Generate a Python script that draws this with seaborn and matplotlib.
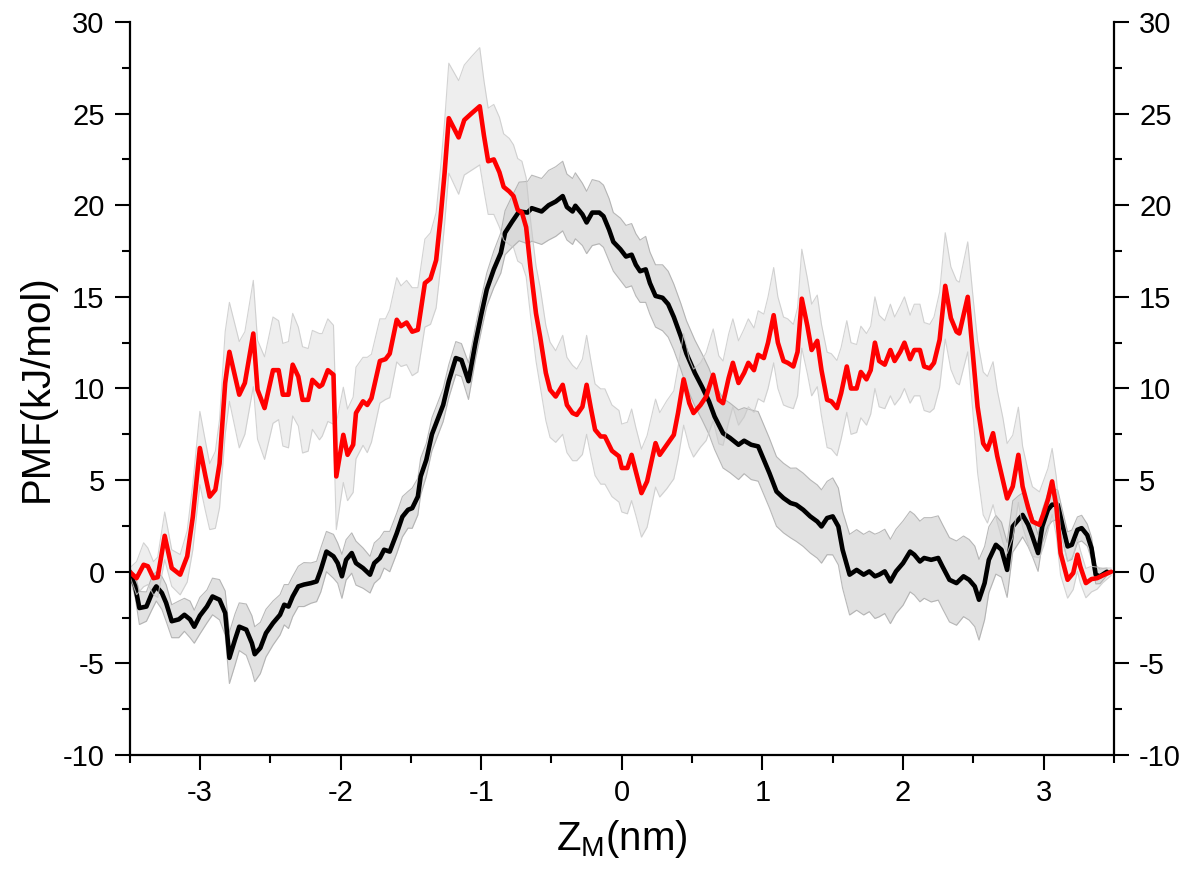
import matplotlib
matplotlib.use("Agg")
import matplotlib.pyplot as plt
from matplotlib.ticker import MultipleLocator
import numpy as np
import pandas as pd
import seaborn as sns

# ---------------- data ----------------
red_z = [
    -3.50, -3.45, -3.40, -3.37, -3.33, -3.30, -3.25, -3.20, -3.14, -3.09,
    -3.05, -3.00, -2.96, -2.93, -2.89, -2.86, -2.82, -2.79, -2.72, -2.68,
    -2.62, -2.59, -2.54, -2.48, -2.44, -2.41, -2.37, -2.34, -2.30, -2.27,
    -2.23, -2.20, -2.15, -2.13, -2.09, -2.05, -2.03, -1.98, -1.95, -1.91,
    -1.89, -1.84, -1.81, -1.78, -1.72, -1.68, -1.65, -1.60, -1.57, -1.53,
    -1.49, -1.45, -1.40, -1.36, -1.32, -1.29, -1.26, -1.23, -1.16, -1.12,
    -1.07, -1.01, -0.98, -0.95, -0.91, -0.87, -0.84, -0.80, -0.77, -0.74,
    -0.71, -0.68, -0.65, -0.61, -0.58, -0.54, -0.51, -0.47, -0.42, -0.39,
    -0.35, -0.32, -0.28, -0.25, -0.22, -0.19, -0.15, -0.12, -0.07, -0.02,
    0.00, 0.04, 0.07, 0.10, 0.14, 0.18, 0.24, 0.27, 0.32, 0.37,
    0.40, 0.44, 0.48, 0.51, 0.56, 0.60, 0.65, 0.69, 0.72, 0.76,
    0.79, 0.83, 0.87, 0.90, 0.94, 0.97, 1.01, 1.04, 1.08, 1.11,
    1.15, 1.18, 1.22, 1.25, 1.28, 1.32, 1.35, 1.39, 1.42, 1.46,
    1.49, 1.53, 1.56, 1.60, 1.63, 1.67, 1.70, 1.74, 1.77, 1.80,
    1.83, 1.87, 1.91, 1.94, 1.98, 2.01, 2.05, 2.08, 2.12, 2.15,
    2.19, 2.22, 2.26, 2.30, 2.34, 2.38, 2.40, 2.46, 2.50, 2.53,
    2.57, 2.60, 2.64, 2.67, 2.71, 2.74, 2.78, 2.82, 2.85, 2.89,
    2.92, 2.97, 3.00, 3.03, 3.06, 3.09, 3.12, 3.17, 3.21, 3.24,
    3.26, 3.30, 3.34, 3.38, 3.42, 3.48,
]
red_pmf = [
    0.0, -0.35, 0.38, 0.3, -0.35, -0.3, 1.96, 0.2, -0.16, 0.84,
    3.0, 6.75, 5.2, 4.1, 4.47, 5.9, 10.3, 12.0, 9.66, 10.3,
    13.0, 9.93, 8.93, 11.0, 11.0, 9.66, 9.66, 11.3, 10.65, 9.38,
    9.38, 10.47, 10.1, 10.2, 11.0, 10.75, 5.2, 7.47, 6.38, 6.93,
    8.66, 9.3, 9.1, 9.47, 11.5, 11.6, 11.9, 13.75, 13.4, 13.6,
    13.1, 13.2, 15.75, 16.0, 17.0, 19.2, 21.75, 24.75, 23.7, 24.65,
    25.0, 25.4, 23.8, 22.4, 22.5, 21.8, 21.0, 20.75, 20.5, 19.75,
    19.6, 18.8, 16.65, 14.1, 12.8, 10.85, 9.93, 9.56, 10.2, 9.1,
    8.66, 8.56, 9.0, 10.2, 8.93, 7.75, 7.38, 7.38, 6.6, 6.3,
    5.66, 5.66, 6.38, 5.47, 4.29, 4.93, 7.02, 6.38, 6.93, 7.47,
    8.66, 10.5, 9.2, 8.66, 9.1, 9.56, 10.75, 9.38, 9.2, 10.57,
    11.4, 10.3, 10.85, 11.4, 11.0, 11.84, 11.66, 12.5, 14.0, 12.5,
    11.5, 11.4, 11.2, 12.0, 14.9, 13.4, 12.1, 12.6, 11.0, 9.38,
    9.3, 8.93, 9.75, 11.2, 10.0, 10.0, 10.9, 10.5, 11.0, 12.5,
    11.5, 11.3, 12.1, 11.5, 12.0, 12.5, 11.6, 12.1, 12.1, 11.2,
    11.1, 11.4, 12.66, 15.6, 13.84, 13.1, 13.0, 15.0, 11.6, 9.0,
    7.0, 6.66, 7.56, 6.3, 5.0, 4.0, 4.65, 6.38, 4.65, 3.48,
    2.74, 2.56, 3.2, 3.93, 4.93, 3.56, 1.02, -0.44, -0.07, 0.93,
    0.29, -0.62, -0.4, -0.35, -0.2, 0.0,
]
red_err = [
    0.2, 0.9, 1.2, 1.0, 0.9, 1.1, 1.3, 1.0, 1.1, 1.4,
    1.8, 2.0, 1.9, 1.8, 2.1, 2.4, 2.8, 2.7, 2.9, 2.8,
    2.9, 2.7, 2.8, 2.9, 2.7, 2.8, 2.9, 2.8, 2.7, 2.9,
    2.8, 2.7, 2.9, 2.8, 2.8, 2.7, 2.9, 2.6, 2.5, 2.6,
    2.5, 2.4, 2.6, 2.4, 2.3, 2.2, 2.4, 2.3, 2.2, 2.3,
    2.4, 2.3, 2.4, 2.5, 2.6, 2.7, 2.8, 3.0, 3.1, 3.0,
    3.1, 3.2, 3.0, 2.9, 3.0, 3.0, 2.9, 2.9, 2.8, 2.8,
    2.8, 2.7, 2.6, 2.6, 2.7, 2.6, 2.6, 2.5, 2.7, 2.6,
    2.6, 2.5, 2.6, 2.7, 2.6, 2.5, 2.6, 2.6, 2.5, 2.5,
    2.4, 2.5, 2.5, 2.4, 2.4, 2.5, 2.4, 2.3, 2.4, 2.4,
    2.5, 2.5, 2.4, 2.4, 2.3, 2.4, 2.5, 2.4, 2.3, 2.4,
    2.4, 2.3, 2.4, 2.4, 2.3, 2.4, 2.4, 2.5, 2.6, 2.5,
    2.4, 2.4, 2.3, 2.4, 2.7, 2.6, 2.5, 2.5, 2.5, 2.6,
    2.6, 2.6, 2.5, 2.5, 2.5, 2.4, 2.5, 2.5, 2.4, 2.5,
    2.5, 2.4, 2.5, 2.4, 2.5, 2.5, 2.4, 2.5, 2.5, 2.4,
    2.4, 2.5, 2.6, 2.9, 2.8, 2.8, 2.8, 3.0, 3.2, 3.6,
    3.9, 4.0, 3.9, 3.6, 3.4, 3.0, 2.8, 2.6, 2.2, 2.0,
    1.9, 1.8, 1.8, 1.7, 1.8, 1.6, 1.2, 1.0, 0.9, 0.9,
    0.9, 0.8, 0.7, 0.6, 0.4, 0.2,
]

black_z = [
    -3.50, -3.46, -3.43, -3.38, -3.34, -3.31, -3.27, -3.24, -3.20, -3.15,
    -3.11, -3.07, -3.04, -3.00, -2.95, -2.91, -2.86, -2.82, -2.79, -2.75,
    -2.72, -2.67, -2.63, -2.61, -2.57, -2.53, -2.48, -2.43, -2.40, -2.37,
    -2.34, -2.30, -2.26, -2.21, -2.17, -2.14, -2.10, -2.05, -2.02, -1.99,
    -1.96, -1.92, -1.89, -1.84, -1.79, -1.76, -1.72, -1.69, -1.65, -1.60,
    -1.56, -1.52, -1.49, -1.45, -1.43, -1.39, -1.35, -1.31, -1.27, -1.23,
    -1.18, -1.14, -1.09, -1.04, -1.00, -0.96, -0.91, -0.86, -0.83, -0.78,
    -0.73, -0.67, -0.64, -0.57, -0.52, -0.47, -0.42, -0.39, -0.35, -0.33,
    -0.28, -0.25, -0.21, -0.16, -0.13, -0.09, -0.06, -0.01, 0.03, 0.07,
    0.10, 0.13, 0.17, 0.20, 0.24, 0.29, 0.33, 0.37, 0.42, 0.46,
    0.52, 0.57, 0.62, 0.66, 0.72, 0.77, 0.83, 0.87, 0.92, 0.97,
    1.02, 1.05, 1.10, 1.15, 1.20, 1.24, 1.29, 1.34, 1.39, 1.42,
    1.46, 1.50, 1.54, 1.57, 1.62, 1.67, 1.72, 1.76, 1.80, 1.83,
    1.87, 1.91, 1.95, 2.00, 2.05, 2.08, 2.12, 2.15, 2.20, 2.25,
    2.28, 2.33, 2.38, 2.43, 2.47, 2.51, 2.54, 2.58, 2.61, 2.66,
    2.70, 2.74, 2.78, 2.82, 2.85, 2.89, 2.92, 2.96, 2.99, 3.03,
    3.06, 3.10, 3.13, 3.17, 3.20, 3.24, 3.27, 3.31, 3.34, 3.37,
    3.40, 3.45,
]
black_pmf = [
    0.0, -0.8, -1.98, -1.9, -1.16, -0.8, -1.16, -1.7, -2.7, -2.6,
    -2.35, -2.6, -3.0, -2.4, -1.9, -1.35, -1.53, -2.25, -4.7, -3.7,
    -3.0, -3.16, -3.9, -4.5, -4.16, -3.35, -2.8, -2.35, -1.8, -1.9,
    -1.35, -0.8, -0.7, -0.62, -0.53, 0.1, 1.1, 0.84, 0.47, -0.25,
    0.65, 1.02, 0.47, 0.2, -0.16, 0.47, 0.75, 1.2, 1.1, 2.1,
    3.0, 3.38, 3.47, 4.1, 5.2, 6.1, 7.5, 8.3, 9.1, 10.4,
    11.66, 11.55, 10.4, 12.5, 14.0, 15.4, 16.5, 17.4, 18.5, 19.1,
    19.66, 19.6, 19.84, 19.66, 20.0, 20.2, 20.5, 19.9, 19.66, 19.97,
    19.5, 19.06, 19.6, 19.6, 19.4, 18.66, 18.0, 17.6, 17.2, 17.3,
    16.75, 16.4, 16.5, 15.75, 15.05, 14.95, 14.6, 13.9, 12.84, 11.9,
    10.84, 10.1, 9.3, 8.47, 7.56, 7.3, 6.93, 7.15, 6.93, 6.84,
    5.93, 5.38, 4.38, 4.02, 3.75, 3.66, 3.38, 3.02, 2.74, 2.47,
    2.93, 3.02, 2.47, 1.2, -0.16, 0.1, -0.16, 0.02, -0.25, -0.16,
    0.02, -0.53, 0.02, 0.47, 1.1, 0.93, 0.56, 0.75, 0.65, 0.75,
    0.29, -0.44, -0.62, -0.25, -0.44, -0.8, -1.53, -0.62, 0.65, 1.47,
    1.2, 0.1, 2.47, 2.84, 3.1, 2.56, 1.93, 1.02, 2.47, 3.38,
    3.66, 3.66, 2.66, 1.38, 1.47, 2.29, 2.38, 2.0, 1.29, -0.16,
    -0.25, 0.0,
]
black_err = [
    0.2, 0.6, 0.9, 0.8, 0.9, 0.8, 0.9, 1.0, 0.9, 1.0,
    0.9, 1.0, 0.9, 1.0, 0.9, 1.0, 1.1, 1.2, 1.4, 1.4,
    1.3, 1.4, 1.5, 1.5, 1.4, 1.3, 1.2, 1.1, 1.1, 1.2,
    1.1, 1.1, 1.2, 1.1, 1.1, 1.2, 1.1, 1.2, 1.1, 1.2,
    1.1, 1.1, 1.2, 1.1, 1.0, 1.1, 1.1, 1.0, 1.1, 1.1,
    1.1, 1.0, 1.1, 1.0, 1.0, 0.9, 0.9, 0.9, 0.9, 0.9,
    0.9, 0.9, 1.0, 0.9, 0.9, 0.9, 1.0, 1.1, 1.2, 1.4,
    1.6, 1.7, 1.8, 1.8, 1.9, 1.9, 1.9, 1.8, 1.8, 1.8,
    1.7, 1.7, 1.8, 1.7, 1.7, 1.7, 1.6, 1.7, 1.7, 1.7,
    1.7, 1.7, 1.8, 1.7, 1.7, 1.8, 1.8, 1.8, 1.8, 1.8,
    1.8, 1.8, 1.8, 1.8, 1.9, 1.9, 1.9, 1.8, 1.9, 1.9,
    1.9, 1.9, 1.9, 1.9, 1.9, 2.0, 2.0, 2.0, 2.0, 2.0,
    2.0, 2.1, 2.1, 2.1, 2.2, 2.2, 2.2, 2.2, 2.3, 2.3,
    2.3, 2.3, 2.3, 2.3, 2.2, 2.2, 2.2, 2.2, 2.3, 2.3,
    2.3, 2.3, 2.3, 2.2, 2.2, 2.2, 2.2, 2.0, 1.8, 1.6,
    1.5, 1.5, 1.4, 1.3, 1.2, 1.2, 1.1, 1.0, 0.9, 0.9,
    0.9, 0.8, 0.8, 0.8, 0.8, 0.7, 0.7, 0.6, 0.6, 0.5,
    0.4, 0.2,
]

x_ticks = [-3, -2, -1, 0, 1, 2, 3]
y_ticks = [-10, -5, 0, 5, 10, 15, 20, 25, 30]
x_label = "Z$_{\\mathrm{M}}$(nm)"
y_label = "PMF(kJ/mol)"

# ---------------- style ----------------
sns.set_style("ticks")
plt.rcParams["font.family"] = ["Liberation Sans", "DejaVu Sans"]
plt.rcParams["mathtext.fontset"] = "custom"
plt.rcParams["mathtext.rm"] = "Liberation Sans"
plt.rcParams["mathtext.it"] = "Liberation Sans:italic"
plt.rcParams["mathtext.bf"] = "Liberation Sans:bold"
plt.rcParams["axes.unicode_minus"] = False
plt.rcParams["text.color"] = "black"
plt.rcParams["axes.labelcolor"] = "black"
plt.rcParams["xtick.color"] = "black"
plt.rcParams["ytick.color"] = "black"

red_df = pd.DataFrame({"z": red_z, "pmf": red_pmf, "err": red_err})
black_df = pd.DataFrame({"z": black_z, "pmf": black_pmf, "err": black_err})

fig = plt.figure(figsize=(11.94, 8.69), dpi=100)
fig.patch.set_facecolor("white")
ax = fig.add_axes([0.1085, 0.1312, 0.8245, 0.8435])
ax.set_facecolor("white")

# black band + line
blo = black_df["pmf"] - black_df["err"]
bhi = black_df["pmf"] + black_df["err"]
ax.fill_between(black_df["z"], blo, bhi, facecolor=(0.62, 0.62, 0.62),
                alpha=0.30, lw=0)
ax.plot(black_df["z"], blo, color="#a8a8a8", lw=0.8, alpha=0.8)
ax.plot(black_df["z"], bhi, color="#a8a8a8", lw=0.8, alpha=0.8)
sns.lineplot(data=black_df, x="z", y="pmf", color="black", lw=3.3,
             estimator=None, sort=False, ax=ax)

# red band + line
rlo = red_df["pmf"] - red_df["err"]
rhi = red_df["pmf"] + red_df["err"]
ax.fill_between(red_df["z"], rlo, rhi, facecolor=(0.78, 0.78, 0.78),
                alpha=0.30, lw=0)
ax.plot(red_df["z"], rlo, color="#c8c8c8", lw=0.8, alpha=0.8)
ax.plot(red_df["z"], rhi, color="#c8c8c8", lw=0.8, alpha=0.8)
sns.lineplot(data=red_df, x="z", y="pmf", color="#ff0000", lw=3.3,
             estimator=None, sort=False, ax=ax)

# ---------------- axes ----------------
ax.set_xlim(-3.5, 3.5)
ax.set_ylim(-10, 30)
ax.set_xticks(x_ticks)
ax.set_yticks(y_ticks)
ax.xaxis.set_minor_locator(MultipleLocator(0.5))
ax.yaxis.set_minor_locator(MultipleLocator(2.5))

for side in ["left", "right", "bottom"]:
    ax.spines[side].set_visible(True)
    ax.spines[side].set_linewidth(1.6)
    ax.spines[side].set_color("black")
ax.spines["top"].set_visible(False)

ax.tick_params(axis="both", which="major", direction="out", length=11,
               width=1.5, labelsize=21, color="black", labelcolor="black")
ax.tick_params(axis="both", which="minor", direction="out", length=6,
               width=1.5, color="black")
ax.tick_params(axis="y", which="both", left=True, right=True,
               labelleft=True, labelright=True, pad=7)
ax.tick_params(axis="x", which="both", top=False, bottom=True, pad=6)

ax.set_xlabel(x_label, fontsize=29, labelpad=8, color="black")
ax.set_ylabel(y_label, fontsize=29, labelpad=5, color="black")

fig.savefig("out.png", dpi=100, facecolor="white")
